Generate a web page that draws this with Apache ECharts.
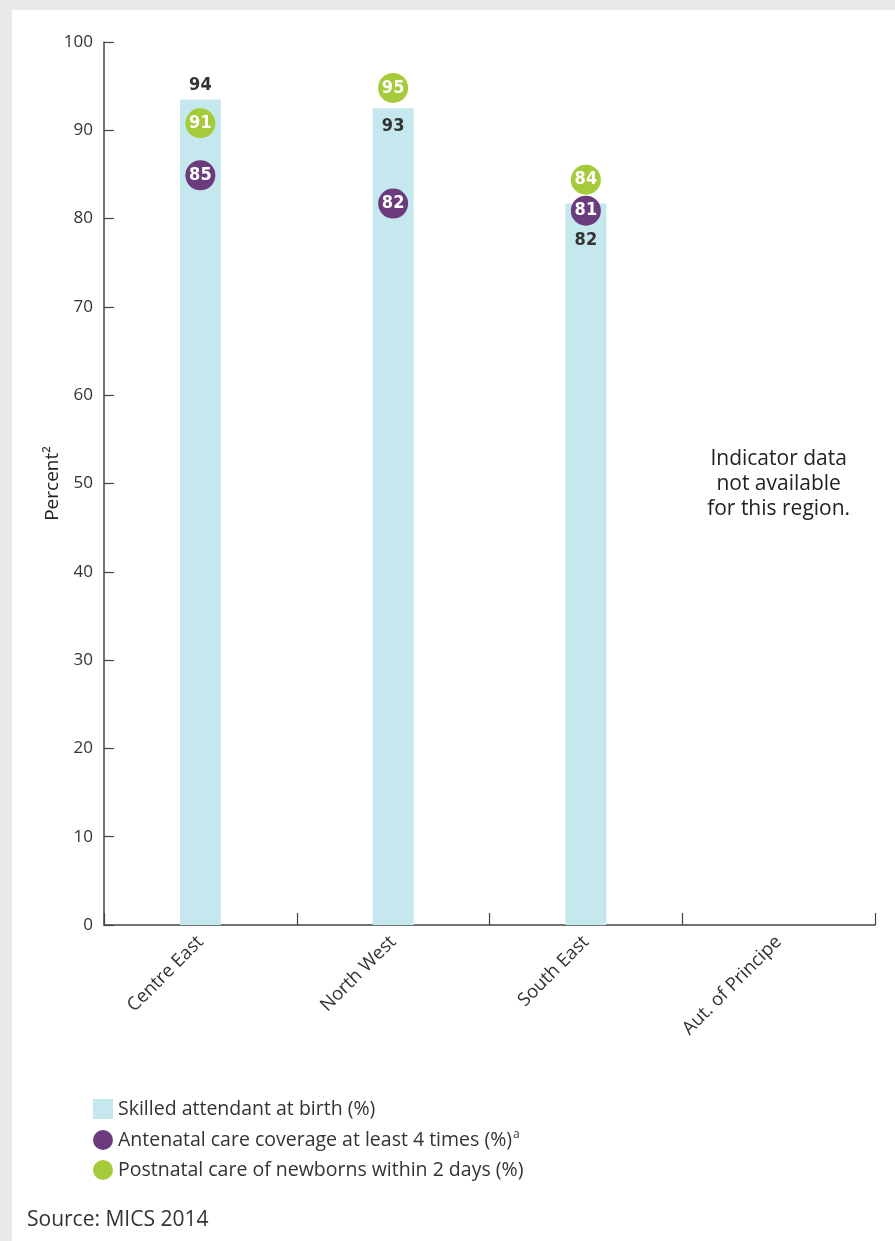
<!DOCTYPE html>
<html>
<head>
<meta charset="utf-8">
<script src="https://cdn.jsdelivr.net/npm/echarts@6/dist/echarts.min.js"></script>
<style>
html,body{margin:0;padding:0;background:#e7e8ea;}
#chart{width:895px;height:1241px;}
</style>
</head>
<body>
<div id="chart"></div>
<script>
const categories = ['Centre East', 'North West', 'South East', 'Aut. of Principe'];
const skilledAttendant = [93.5, 92.5, 81.7, null];
const antenatalCare = [84.9, 81.7, 80.9, null];
const postnatalCare = [90.8, 94.8, 84.4, null];
const yTicks = [0, 10, 20, 30, 40, 50, 60, 70, 80, 90, 100];
const seriesNames = [
  'Skilled attendant at birth (%)',
  'Antenatal care coverage at least 4 times (%)',
  'Postnatal care of newborns within 2 days (%)'
];
const noDataText = 'Indicator data\nnot available\nfor this region.';
const sourceText = 'Source: MICS 2014';

const FONT = '"Open Sans", Roboto, sans-serif';
const NARROW = '"DejaVu Sans Condensed", "Liberation Sans Narrow", sans-serif';

// per-bar label placement (style only)
const barLabelStyle = [
  { position: 'top', distance: 5, offset: [0, 0] },
  { position: 'insideTop', distance: 5, offset: [0, 4] },
  { position: 'insideTop', distance: 5, offset: [0, 23] },
  { position: 'top', distance: 5, offset: [0, 0] }
];

const barData = skilledAttendant.map((v, i) => ({
  value: v == null ? '-' : v,
  label: barLabelStyle[i]
}));

const dotLabel = {
  show: true, position: 'inside', color: '#fff', fontFamily: NARROW,
  fontWeight: 'bold', fontSize: 18,
  formatter: p => Math.round(p.value)
};

const baseGraphics = [
  { type: 'rect', left: 12, top: 10, shape: { width: 883, height: 1231 }, style: { fill: '#ffffff' }, z: -10 },
  { type: 'text', left: 27, top: 1210, style: { text: sourceText, fill: '#333', font: '21px ' + FONT } }
];

const chart = echarts.init(document.getElementById('chart'), null, { renderer: 'canvas' });
chart.setOption({
  backgroundColor: '#e7e8ea',
  animation: false,
  textStyle: { fontFamily: FONT },
  graphic: baseGraphics,
  grid: { left: 104, right: 20, top: 42, bottom: 316 },
  legend: {
    orient: 'vertical', left: 88, top: 1094, itemGap: 10,
    itemWidth: 20, itemHeight: 20,
    data: [
      { name: seriesNames[0], icon: 'rect' },
      { name: seriesNames[1], icon: 'circle' },
      { name: seriesNames[2], icon: 'circle' }
    ],
    formatter: n => n === seriesNames[1] ? n + '{sup|a}' : n,
    textStyle: {
      fontFamily: FONT, fontSize: 19.5, color: '#333',
      rich: { sup: { fontSize: 12, color: '#333', fontFamily: FONT, verticalAlign: 'top', padding: [0, 0, 10, 1] } }
    }
  },
  xAxis: {
    type: 'category', data: categories,
    axisLine: { lineStyle: { color: '#444', width: 1.5 } },
    axisTick: { show: true, inside: true, length: 12, lineStyle: { color: '#444', width: 1.2 } },
    axisLabel: { rotate: 45, fontSize: 18.5, color: '#333', margin: 14, fontFamily: FONT }
  },
  yAxis: {
    type: 'value', min: 0, max: 100, interval: 10,
    name: 'Percent²', nameLocation: 'middle', nameGap: 42, nameMoveOverlap: false,
    nameTextStyle: { fontSize: 19, color: '#222', fontFamily: FONT },
    axisLine: { show: true, lineStyle: { color: '#444', width: 1.5 } },
    axisTick: { show: true, inside: true, length: 10, lineStyle: { color: '#444', width: 1.2 } },
    splitLine: { show: false },
    axisLabel: { fontSize: 17, color: '#333', margin: 11, fontFamily: FONT,
      formatter: v => yTicks.includes(v) ? String(v) : '' }
  },
  series: [
    {
      name: seriesNames[0], type: 'bar', data: barData, barWidth: 41,
      itemStyle: { color: '#c5e8ee' },
      label: { show: true, color: '#333', fontFamily: NARROW, fontWeight: 'bold', fontSize: 18,
        formatter: p => Math.round(p.value) },
      z: 1
    },
    {
      name: seriesNames[1], type: 'scatter', data: antenatalCare.map(v => v == null ? '-' : v),
      symbol: 'circle', symbolSize: 30, itemStyle: { color: '#6b3b7e', opacity: 1 },
      label: dotLabel, z: 3
    },
    {
      name: seriesNames[2], type: 'scatter', data: postnatalCare.map(v => v == null ? '-' : v),
      symbol: 'circle', symbolSize: 30, itemStyle: { color: '#a5ca3a', opacity: 1 },
      label: dotLabel, z: 4
    }
  ]
});

// "no data" note placed at the fourth category via the chart's own scale
const px = chart.convertToPixel({ xAxisIndex: 0, yAxisIndex: 0 }, [3, 50]);
chart.setOption({
  graphic: baseGraphics.concat([
    { type: 'text', x: px[0], y: px[1] + 1, style: { text: noDataText, textAlign: 'center', textVerticalAlign: 'middle',
      font: '21px ' + FONT, fill: '#222', lineHeight: 25 } }
  ])
}, { replaceMerge: ['graphic'] });
</script>
</body>
</html>
